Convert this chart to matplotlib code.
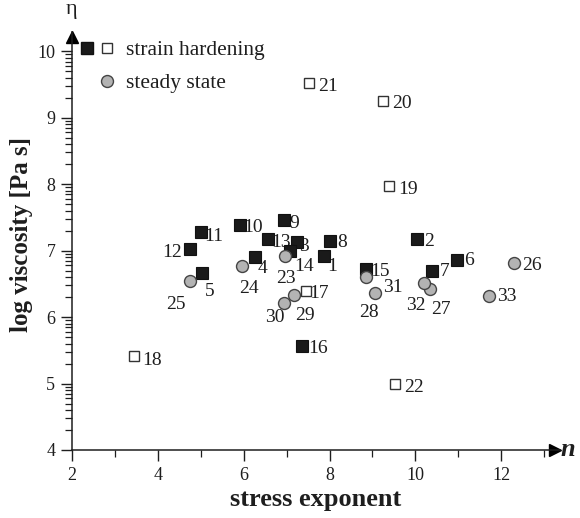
import numpy as np
import matplotlib
matplotlib.use("Agg")
import matplotlib.pyplot as plt
from matplotlib.ticker import FixedLocator

plt.rcParams['font.family'] = ['Liberation Serif', 'DejaVu Serif']

# strain hardening, filled squares (1-16)
filled_ids = [str(i) for i in range(1, 17)]
filled_n = [7.86, 10.03, 7.24, 6.27, 5.03, 10.97, 10.39, 8.02, 6.95, 5.91, 5.01, 4.75, 6.57, 7.07, 8.84, 7.37]
filled_eta = [6.92, 7.17, 7.13, 6.90, 6.66, 6.86, 6.70, 7.15, 7.46, 7.38, 7.28, 7.03, 7.18, 7.00, 6.72, 5.57]

# strain hardening, open squares (17-22)
open_ids = ['17', '18', '19', '20', '21', '22']
open_n = [7.45, 3.45, 9.39, 9.24, 7.53, 9.52]
open_eta = [6.39, 5.41, 7.97, 9.25, 9.52, 5.00]

# steady state, circles (23-33)
circle_ids = ['23', '24', '25', '26', '27', '28', '29', '30', '31', '32', '33']
circle_n = [6.97, 5.97, 4.74, 12.30, 10.35, 9.07, 7.18, 6.93, 8.84, 10.20, 11.72]
circle_eta = [6.92, 6.77, 6.55, 6.81, 6.43, 6.37, 6.33, 6.21, 6.61, 6.51, 6.32]

# label offsets in pixels (right, down) from the marker centre
label_off = {
    '1': (9, 9), '2': (12, 0), '3': (7, 3), '4': (7, 9), '5': (8, 16),
    '6': (12, -1), '7': (13, -1), '8': (12, 0), '9': (10, 1), '10': (13, 0),
    '11': (13, 2), '12': (-18, 2), '13': (13, 2), '14': (14, 14), '15': (14, 0),
    '16': (16, 1), '17': (13, 0), '18': (18, 2), '19': (19, 1), '20': (19, 0),
    '21': (19, 1), '22': (19, 2), '23': (1, 21), '24': (7, 21), '25': (-14, 22),
    '26': (18, 0), '27': (11, 19), '28': (-7, 18), '29': (11, 18), '30': (-9, 12),
    '31': (27, 9), '32': (-8, 20), '33': (18, -1),
}

ink = '#1e1e1e'
fig = plt.figure(figsize=(5.8, 5.18), dpi=100)
ax = fig.add_axes([72 / 580, 68 / 518, (560 - 72) / 580, (450 - 32) / 518])

ax.plot(filled_n, filled_eta, 's', ms=8, mfc='#1a1a1a', mec='#111111', mew=0.8, zorder=3)
ax.plot(open_n, open_eta, 's', ms=7.2, mfc='white', mec='#333333', mew=1.0, zorder=3)
ax.plot(circle_n, circle_eta, 'o', ms=8.6, mfc='#b3b3b3', mec='#444444', mew=1.0, zorder=4)

for ids, xs, ys in [(filled_ids, filled_n, filled_eta), (open_ids, open_n, open_eta),
                    (circle_ids, circle_n, circle_eta)]:
    for lab, x, y in zip(ids, xs, ys):
        dx, dy = label_off[lab]
        ax.annotate(lab, (x, y), xytext=(dx * 0.72, -dy * 0.72), textcoords='offset points',
                    ha='center', va='center_baseline', fontsize=14, color=ink, zorder=2)

ax.set_xlim(2, 13.37)
ax.set_ylim(4, 10.29)
for s in ['top', 'right']:
    ax.spines[s].set_visible(False)
for s in ['left', 'bottom']:
    ax.spines[s].set_linewidth(1.1)
    ax.spines[s].set_color(ink)

ax.xaxis.set_major_locator(FixedLocator([2, 4, 6, 8, 10, 12]))
ax.xaxis.set_minor_locator(FixedLocator([3, 5, 7, 9, 11, 13]))
ax.yaxis.set_major_locator(FixedLocator([4, 5, 6, 7, 8, 9, 10]))
ax.yaxis.set_minor_locator(FixedLocator([d + np.log10(k) for d in range(4, 10) for k in range(2, 10)]))
ax.tick_params(which='major', length=8, width=1.0, color=ink, labelsize=13, labelcolor=ink, pad=4)
ax.tick_params(axis='x', which='minor', length=5, width=0.9, color=ink)
ax.tick_params(axis='y', which='minor', length=5, width=0.9, color=ink)

# axis arrows
ax.plot(1 - 5 / 488, 0, '>', ms=9, color='black', transform=ax.transAxes, clip_on=False)
ax.plot(0, 1 - 5 / 418, '^', ms=9, color='black', transform=ax.transAxes, clip_on=False)
ax.text(1.0, 0, 'n', transform=ax.transAxes, fontsize=19, fontweight='bold',
        fontstyle='italic', ha='left', va='center', color=ink)
ax.text(0, 1.03, 'η', transform=ax.transAxes, fontsize=16, ha='center', va='bottom', color=ink)

ax.set_xlabel('stress exponent', fontsize=19, fontweight='bold', color=ink, labelpad=3)
ax.set_ylabel('log viscosity [Pa s]', fontsize=18, fontweight='bold', color=ink)
ax.yaxis.set_label_coords(-0.08, 0.515)

# legend drawn by hand like the original
leg_sq = [2.35, 2.82]
leg_y = [10.05, 9.56]
leg_tx = 3.26
ax.plot([leg_sq[0]], [leg_y[0]], 's', ms=8, mfc='#1a1a1a', mec='#111111', clip_on=False)
ax.plot([leg_sq[1]], [leg_y[0]], 's', ms=7.2, mfc='white', mec='#333333', clip_on=False)
ax.plot([leg_sq[1]], [leg_y[1]], 'o', ms=8.6, mfc='#b3b3b3', mec='#444444', clip_on=False)
ax.text(leg_tx, leg_y[0], 'strain hardening', fontsize=15.5, va='center_baseline', ha='left', color=ink)
ax.text(leg_tx, leg_y[1], 'steady state', fontsize=15.5, va='center_baseline', ha='left', color=ink)

fig.savefig('out.png', dpi=100)
